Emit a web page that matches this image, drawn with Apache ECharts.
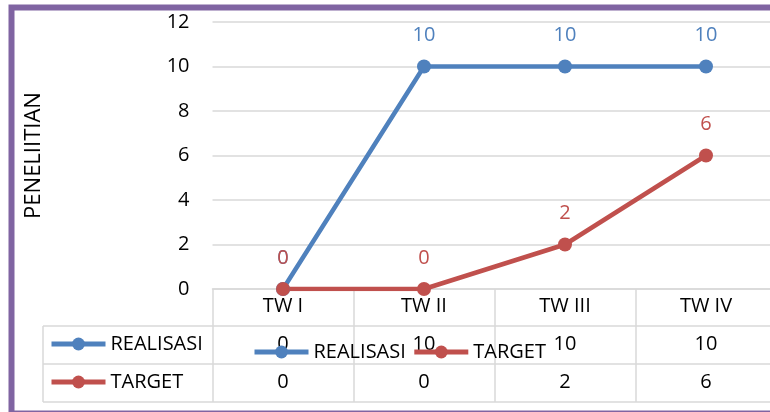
<!DOCTYPE html>
<html>
<head>
<meta charset="utf-8">
<script src="https://cdn.jsdelivr.net/npm/echarts@6/dist/echarts.min.js"></script>
<style>
  html, body { margin: 0; padding: 0; background: #fff; overflow: hidden; }
  #chart { width: 780px; height: 412px; }
</style>
</head>
<body>
<div id="chart"></div>
<script>
const categories = ['TW I', 'TW II', 'TW III', 'TW IV'];
const realisasi = [0, 10, 10, 10];
const target = [0, 0, 2, 6];
const yTitle = 'PENELIITIAN';

const FONT = 'Open Sans';
const BLUE = '#4F81BD';
const RED = '#C0504D';
const GRID_LINE = '#D9D9D9';

const chart = echarts.init(document.getElementById('chart'));

// value rows of the data table are drawn as extra category axes
const tableAxis = (values, offset) => ({
  type: 'category',
  gridIndex: 0,
  position: 'bottom',
  offset: offset,
  data: values.map(String),
  axisLine: { show: false },
  axisTick: { show: false },
  axisLabel: { color: '#000', fontFamily: FONT, fontSize: 20, margin: 7 }
});

const lineSeries = (name, data, color) => ({
  name: name,
  type: 'line',
  data: data,
  symbol: 'circle',
  symbolSize: 14,
  lineStyle: { color: color, width: 4.5 },
  itemStyle: { color: color },
  label: {
    show: true,
    position: 'top',
    distance: 14,
    color: color,
    fontFamily: FONT,
    fontSize: 20
  }
});

const legendBase = {
  padding: 0,
  itemWidth: 54,
  itemHeight: 16,
  lineStyle: { width: 5 },
  textStyle: { color: '#000', fontFamily: FONT, fontSize: 20 },
  data: ['REALISASI', 'TARGET']
};

const option = {
  animation: false,
  textStyle: { fontFamily: FONT },
  grid: { left: 212.5, right: 3.5, top: 22, bottom: 123 },
  xAxis: [
    {
      type: 'category',
      data: categories,
      boundaryGap: true,
      axisLine: { lineStyle: { color: GRID_LINE, width: 1.5 } },
      axisTick: { show: true, length: 113, lineStyle: { color: GRID_LINE, width: 1.5 } },
      axisLabel: { color: '#000', fontFamily: FONT, fontSize: 20, margin: 7 }
    },
    tableAxis(realisasi, 38),
    tableAxis(target, 76)
  ],
  yAxis: {
    type: 'value',
    min: 0,
    max: 12,
    interval: 2,
    name: yTitle,
    nameLocation: 'middle',
    nameRotate: 90,
    nameGap: 168,
    nameTextStyle: { color: '#000', fontFamily: FONT, fontSize: 22 },
    axisLine: { show: false },
    axisTick: { show: false },
    splitLine: { lineStyle: { color: GRID_LINE, width: 1.5 } },
    axisLabel: { color: '#000', fontFamily: FONT, fontSize: 20, margin: 23 }
  },
  legend: [
    Object.assign({}, legendBase, {
      orient: 'vertical',
      left: 49,
      top: 334,
      itemGap: 18
    }),
    Object.assign({}, legendBase, {
      orient: 'horizontal',
      left: 252,
      top: 342,
      itemGap: 6
    })
  ],
  graphic: [
    // frame around the chart
    {
      type: 'rect',
      silent: true,
      shape: { x: 11.5, y: 7.5, width: 800, height: 406 },
      style: { fill: 'none', stroke: '#8064A2', lineWidth: 6 }
    },
    // data table borders
    { type: 'line', silent: true, shape: { x1: 43, y1: 326, x2: 777, y2: 326 }, style: { stroke: GRID_LINE, lineWidth: 1.5 } },
    { type: 'line', silent: true, shape: { x1: 43, y1: 364, x2: 777, y2: 364 }, style: { stroke: GRID_LINE, lineWidth: 1.5 } },
    { type: 'line', silent: true, shape: { x1: 43, y1: 402, x2: 777, y2: 402 }, style: { stroke: GRID_LINE, lineWidth: 1.5 } },
    { type: 'line', silent: true, shape: { x1: 43, y1: 326, x2: 43, y2: 402 }, style: { stroke: GRID_LINE, lineWidth: 1.5 } }
  ],
  series: [
    lineSeries('REALISASI', realisasi, BLUE),
    lineSeries('TARGET', target, RED)
  ]
};

chart.setOption(option);
</script>
</body>
</html>
